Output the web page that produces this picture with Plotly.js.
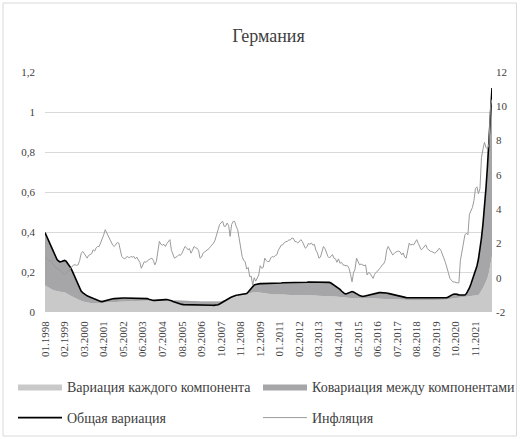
<!DOCTYPE html>
<html>
<head>
<meta charset="utf-8">
<script src="https://cdn.plot.ly/plotly-3.0.1.min.js"></script>
<style>
html,body{margin:0;padding:0;background:#fff;}
#chart{width:520px;height:439px;}
</style>
</head>
<body>
<div id="chart"></div>
<script>
// ---- data (monthly, 01.1998 – 10.2022) ----
var firstYear = 1998, lastYear = 2022, lastMonth = 10;

var variance = [
0.133,0.13,0.125,0.12,0.115,0.11,0.108,0.106,0.104,0.102,0.1,0.1,
0.1,0.098,0.095,0.09,0.085,0.082,0.078,0.074,0.07,0.066,0.062,0.059,
0.056,0.053,0.051,0.049,0.047,0.046,0.045,0.044,0.043,0.043,0.043,0.044,
0.044,0.045,0.045,0.046,0.047,0.047,0.048,0.048,0.049,0.049,0.05,0.05,
0.05,0.051,0.051,0.052,0.052,0.052,0.053,0.053,0.053,0.054,0.054,0.054,
0.055,0.055,0.055,0.055,0.056,0.056,0.056,0.057,0.057,0.057,0.057,0.058,
0.058,0.059,0.059,0.06,0.06,0.06,0.061,0.061,0.061,0.061,0.06,0.06,
0.06,0.059,0.059,0.058,0.058,0.057,0.057,0.056,0.056,0.055,0.055,0.055,
0.055,0.055,0.055,0.054,0.054,0.054,0.054,0.053,0.053,0.053,0.052,0.052,
0.052,0.051,0.051,0.05,0.05,0.05,0.05,0.05,0.051,0.053,0.056,0.059,
0.062,0.065,0.068,0.07,0.072,0.074,0.076,0.078,0.079,0.08,0.081,0.082,
0.083,0.085,0.088,0.091,0.094,0.097,0.099,0.1,0.1,0.099,0.097,0.095,
0.093,0.092,0.091,0.09,0.09,0.089,0.089,0.088,0.088,0.088,0.087,0.087,
0.087,0.087,0.087,0.086,0.086,0.086,0.086,0.085,0.085,0.085,0.085,0.085,
0.084,0.084,0.084,0.084,0.083,0.083,0.083,0.083,0.082,0.082,0.082,0.082,
0.082,0.081,0.081,0.081,0.08,0.08,0.08,0.08,0.08,0.079,0.079,0.078,
0.078,0.077,0.076,0.075,0.074,0.073,0.072,0.071,0.07,0.07,0.07,0.07,
0.07,0.07,0.07,0.07,0.069,0.069,0.068,0.068,0.067,0.067,0.067,0.067,
0.067,0.067,0.067,0.067,0.067,0.067,0.066,0.066,0.066,0.066,0.066,0.066,
0.066,0.065,0.065,0.065,0.064,0.064,0.063,0.063,0.062,0.062,0.061,0.061,
0.06,0.06,0.059,0.059,0.059,0.058,0.058,0.058,0.058,0.058,0.058,0.058,
0.058,0.058,0.058,0.058,0.058,0.058,0.058,0.058,0.059,0.059,0.059,0.06,
0.06,0.061,0.062,0.063,0.064,0.065,0.066,0.067,0.068,0.069,0.07,0.071,
0.072,0.073,0.074,0.075,0.076,0.077,0.078,0.079,0.08,0.081,0.082,0.083,
0.085,0.095,0.105,0.12,0.135,0.15,0.17,0.2,0.24,0.28
];

var totalVariation = [
0.397,0.38,0.36,0.345,0.33,0.31,0.29,0.272,0.262,0.255,0.25,0.252,
0.256,0.258,0.254,0.245,0.235,0.222,0.207,0.19,0.17,0.155,0.138,0.12,
0.105,0.097,0.09,0.085,0.081,0.078,0.075,0.072,0.068,0.064,0.06,0.057,
0.055,0.053,0.052,0.054,0.058,0.061,0.063,0.064,0.065,0.066,0.067,0.068,
0.069,0.069,0.07,0.07,0.07,0.07,0.07,0.07,0.07,0.07,0.07,0.07,
0.07,0.07,0.07,0.07,0.07,0.07,0.07,0.069,0.067,0.064,0.061,0.059,
0.058,0.058,0.059,0.06,0.061,0.062,0.062,0.062,0.062,0.062,0.061,0.059,
0.056,0.053,0.05,0.047,0.044,0.041,0.039,0.038,0.037,0.037,0.037,0.037,
0.037,0.037,0.037,0.037,0.037,0.037,0.037,0.037,0.037,0.037,0.037,0.036,
0.036,0.035,0.034,0.034,0.033,0.033,0.034,0.036,0.04,0.045,0.05,0.055,
0.059,0.063,0.067,0.071,0.075,0.079,0.082,0.084,0.085,0.086,0.086,0.087,
0.088,0.089,0.092,0.1,0.11,0.12,0.13,0.135,0.138,0.14,0.141,0.142,
0.142,0.142,0.143,0.143,0.143,0.144,0.144,0.144,0.145,0.145,0.145,0.145,
0.145,0.145,0.146,0.146,0.146,0.146,0.147,0.147,0.147,0.147,0.147,0.148,
0.148,0.148,0.148,0.149,0.149,0.149,0.149,0.15,0.15,0.15,0.15,0.15,
0.15,0.15,0.15,0.15,0.15,0.15,0.15,0.15,0.15,0.148,0.145,0.14,
0.135,0.13,0.125,0.12,0.113,0.105,0.098,0.092,0.09,0.093,0.097,0.1,
0.102,0.1,0.097,0.092,0.087,0.082,0.079,0.078,0.079,0.081,0.083,0.085,
0.087,0.089,0.091,0.093,0.095,0.096,0.097,0.097,0.097,0.097,0.096,0.095,
0.093,0.091,0.089,0.087,0.085,0.083,0.081,0.079,0.077,0.075,0.074,0.073,
0.072,0.071,0.071,0.07,0.07,0.07,0.07,0.071,0.071,0.071,0.07,0.07,
0.07,0.069,0.069,0.069,0.069,0.07,0.07,0.07,0.071,0.071,0.071,0.07,
0.07,0.07,0.071,0.072,0.075,0.08,0.085,0.088,0.09,0.09,0.088,0.085,
0.085,0.083,0.083,0.085,0.092,0.105,0.12,0.14,0.16,0.185,0.21,0.23,
0.265,0.31,0.37,0.44,0.52,0.62,0.73,0.86,1.0,1.12
];

var inflation = [
1.24,1.15,1.05,0.95,1.0,0.85,0.75,0.6,0.55,0.5,0.42,0.35,
0.25,0.16,0.25,0.35,0.45,0.55,0.65,0.75,0.75,0.72,0.75,1.0,
1.4,1.53,1.43,1.25,1.14,1.3,1.33,1.4,1.63,1.55,1.75,1.82,
1.82,2.02,2.22,2.5,2.8,2.6,2.41,2.2,2.02,1.9,1.82,1.95,
2.05,2.02,1.7,1.24,1.14,1.1,1.2,1.24,1.15,1.24,1.2,1.24,
1.1,1.2,1.04,0.9,0.55,0.8,0.94,0.9,1.0,1.05,1.1,1.14,
1.0,0.75,0.95,1.5,2.12,1.95,1.9,1.95,1.82,2.0,2.1,2.22,
1.6,1.3,1.14,1.2,1.25,1.35,1.3,1.43,1.6,1.82,1.75,1.63,
1.7,1.43,1.6,1.82,1.75,1.72,1.6,1.14,1.2,1.43,1.5,1.55,
1.63,1.7,1.82,1.9,2.02,2.2,2.6,2.8,3.1,3.19,3.3,3.0,
3.0,3.19,3.05,2.41,3.1,3.29,3.29,3.0,2.8,2.3,1.6,1.24,
1.0,0.94,0.5,0.6,0.06,0.1,-0.43,0.0,-0.2,-0.04,0.16,0.7,
0.55,0.6,1.14,1.0,0.94,0.95,1.15,1.24,1.2,1.3,1.33,1.6,
1.75,1.9,1.92,2.05,2.1,2.12,2.2,2.2,2.31,2.3,2.12,2.1,
2.02,2.15,2.22,2.1,1.95,1.72,1.8,2.0,1.95,2.02,1.9,1.95,
1.6,1.45,1.14,1.2,1.5,1.82,1.7,1.5,1.24,1.15,1.25,1.35,
1.14,1.1,0.9,1.1,0.84,0.9,0.75,0.7,0.7,0.7,0.55,0.2,
-0.24,0.3,0.5,1.14,0.95,0.75,0.8,0.75,0.7,0.75,0.16,0.3,
0.25,0.1,-0.04,0.2,0.3,0.35,0.5,0.6,0.75,0.8,1.0,1.6,
1.82,1.63,1.5,1.33,1.4,1.5,1.53,1.55,1.5,1.33,1.45,1.2,
1.14,1.5,2.02,1.9,1.95,1.92,2.1,2.22,2.0,1.8,1.63,1.7,
1.8,1.92,1.7,1.6,1.55,1.53,1.5,1.43,1.5,1.6,1.72,1.6,
1.3,1.14,0.9,0.65,0.3,-0.04,-0.15,-0.24,-0.25,-0.3,-0.3,-0.3,
1.0,1.5,1.9,2.5,2.6,2.5,3.7,3.9,4.1,4.5,5.2,5.3,
4.9,5.2,7.0,7.5,7.9,7.6,7.5,7.8,10.0,10.4
];

var xTickLabels = ['01.1998','02.1999','03.2000','04.2001','05.2002','06.2003','07.2004','08.2005',
  '09.2006','10.2007','11.2008','12.2009','01.2011','02.2012','03.2013','04.2014','05.2015',
  '06.2016','07.2017','08.2018','09.2019','10.2020','11.2021'];
var leftTicks = [0, 0.2, 0.4, 0.6, 0.8, 1, 1.2];
var rightTicks = [-2, 0, 2, 4, 6, 8, 10, 12];
var rightTickText = ['-2','0','2','4','6','8','10','12'];

var seriesNames = ['Вариация каждого компонента','Ковариация между компонентами','Общая вариация','Инфляция'];
var chartTitle = 'Германия';

// month categories "MM.YYYY"
var months = [];
for (var yy = firstYear; yy <= lastYear; yy++) {
  for (var mm = 1; mm <= 12; mm++) {
    if (yy === lastYear && mm > lastMonth) break;
    months.push((mm < 10 ? '0' : '') + mm + '.' + yy);
  }
}

var FONT = 'Liberation Serif, Times New Roman, serif';
var TXT = '#404040';

var traces = [
  {x: months, y: variance, type: 'scatter', mode: 'lines', name: seriesNames[0],
   fill: 'tozeroy', fillcolor: '#c9c9c9', line: {width: 0, color: '#c9c9c9'},
   legend: 'legend', hoverinfo: 'skip'},
  {x: months, y: totalVariation, type: 'scatter', mode: 'lines', name: seriesNames[1],
   fill: 'tonexty', fillcolor: '#a6a6a8', line: {width: 0, color: '#a6a6a8'},
   legend: 'legend2', hoverinfo: 'skip'},
  {x: months, y: totalVariation, type: 'scatter', mode: 'lines', name: seriesNames[2],
   line: {width: 1.6, color: '#000000'}, legend: 'legend3', hoverinfo: 'skip'},
  {x: months, y: inflation, type: 'scatter', mode: 'lines', name: seriesNames[3],
   yaxis: 'y2', line: {width: 1, color: '#9b9b9b'}, legend: 'legend4', hoverinfo: 'skip'}
];

var L = 45, R = 28, T = 72, B = 127, W = 520, H = 439;
var pw = W - L - R, ph = H - T - B;
function px2x(p){ return (p - L) / pw; }
function py2y(p){ return (H - B - p) / ph; }

function legendAt(pxX, pxY) {
  return {
    orientation: 'h', xanchor: 'left', yanchor: 'middle', x: px2x(pxX), y: py2y(pxY),
    itemwidth: 44, font: {family: FONT, size: 14, color: TXT},
    bgcolor: 'rgba(0,0,0,0)', borderwidth: 0
  };
}

var layout = {
  width: W, height: H,
  margin: {l: L, r: R, t: T, b: B, pad: 0, autoexpand: false},
  paper_bgcolor: '#ffffff', plot_bgcolor: '#ffffff',
  separators: ', ',
  font: {family: FONT, size: 11, color: TXT},
  title: {text: chartTitle, font: {family: FONT, size: 18, color: TXT},
          x: 0.5, xref: 'paper', xanchor: 'center', y: 1 - 36 / H, yref: 'container', yanchor: 'middle'},
  xaxis: {type: 'category', range: [0, months.length - 1], tickmode: 'array', tickvals: xTickLabels,
          ticktext: xTickLabels, tickangle: -90, showgrid: false, zeroline: false, showline: false,
          ticks: '', ticklabelstandoff: 6, automargin: false,
          tickfont: {family: FONT, size: 11, color: TXT}},
  yaxis: {range: [0, 1.2], tickmode: 'array', tickvals: leftTicks, showgrid: true,
          gridcolor: '#d9d9d9', gridwidth: 1, zeroline: false, showline: false, ticks: '',
          ticklabelstandoff: 9, automargin: false, tickfont: {family: FONT, size: 11, color: TXT}},
  yaxis2: {range: [-2, 12], overlaying: 'y', side: 'right', tickmode: 'array', tickvals: rightTicks,
           ticktext: rightTickText, showgrid: false, zeroline: false, showline: false, ticks: '',
           ticklabelstandoff: 3, automargin: false, tickfont: {family: FONT, size: 11, color: TXT}},
  legend: legendAt(13, 387),
  legend2: legendAt(258, 387),
  legend3: legendAt(13, 418),
  legend4: legendAt(258, 418),
  shapes: [{type: 'rect', xref: 'paper', yref: 'paper', layer: 'below',
            x0: px2x(3), x1: px2x(516.5), y0: py2y(436), y1: py2y(3),
            line: {color: '#d9d9d9', width: 1}, fillcolor: 'rgba(0,0,0,0)'}],
  showlegend: true
};

Plotly.newPlot('chart', traces, layout, {staticPlot: true, displayModeBar: false});
</script>
</body>
</html>
